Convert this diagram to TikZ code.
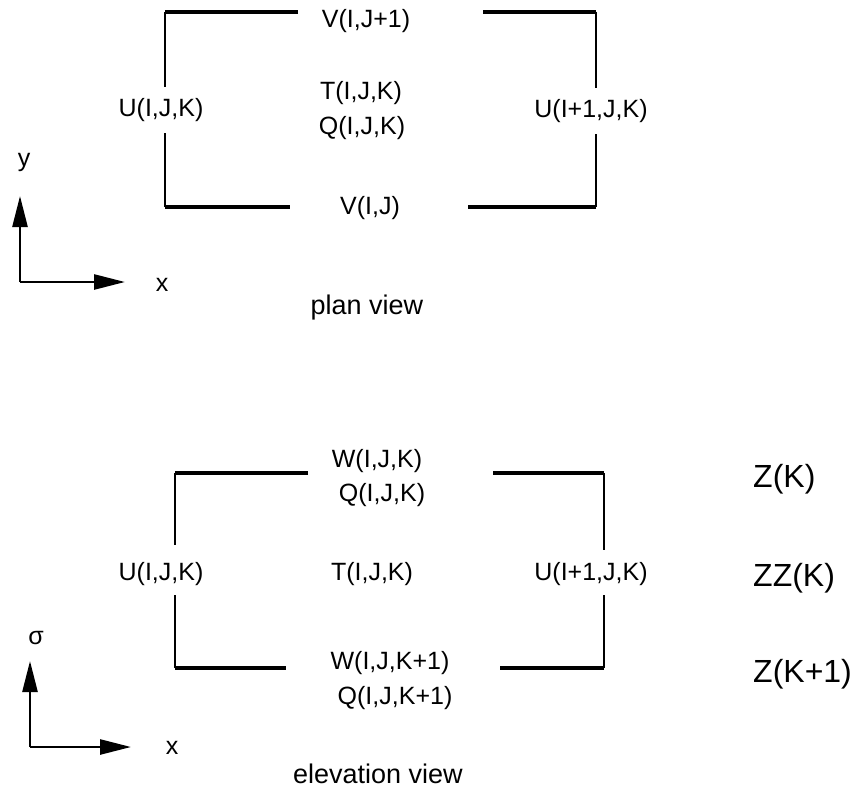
\documentclass[tikz,border=0pt]{standalone}
\usepackage{fontspec}
\setmainfont{Liberation Sans}
\usetikzlibrary{arrows.meta}
\tikzset{
  lab/.style={font=\fontsize{25}{28}\selectfont, inner sep=0pt},
  biglab/.style={font=\fontsize{32}{36}\selectfont, inner sep=0pt, anchor=west},
  viewcap/.style={font=\fontsize{27}{30}\selectfont, inner sep=0pt},
  face/.style={line width=3.4pt},
  side/.style={line width=2.4pt},
  axis/.style={line width=2.6pt, -{Triangle[length=31pt,width=15pt]}}
}
\begin{document}
\begin{tikzpicture}[x=1pt,y=-1pt]
\useasboundingbox (0,0) rectangle (861,789);
% plan view
\node[lab] (vtop) at (366,21) {V(I,J+1)};
\node[lab] (uwest) at (161,110) {U(I,J,K)};
\node[lab] (tplan) at (361,93) {T(I,J,K)};
\node[lab] (qplan) at (362,128) {Q(I,J,K)};
\node[lab] (ueast) at (591,111) {U(I+1,J,K)};
\node[lab] (vbot) at (370,208) {V(I,J)};
\draw[face] (298,12) -- (165,12);
\draw[side] (165,12) -- (165,87);
\draw[side] (165,133) -- (165,207);
\draw[face] (165,207) -- (290,207);
\draw[face] (483,12) -- (596,12);
\draw[side] (596,12) -- (596,88);
\draw[side] (596,134) -- (596,207);
\draw[face] (596,207) -- (468,207);
\coordinate (po) at (20,282);
\draw[axis] (po) -- (20,196);
\draw[axis] (po) -- (125,282);
\node[lab] (ylab) at (24,162) {y};
\node[lab] (xplan) at (162,285) {x};
\node[viewcap] (plan) at (367,308) {plan view};
% elevation view
\node[lab] (wtop) at (377,461) {W(I,J,K)};
\node[lab] (qtop) at (382,495) {Q(I,J,K)};
\node[lab] (uwest2) at (161,574) {U(I,J,K)};
\node[lab] (tel) at (372,574) {T(I,J,K)};
\node[lab] (ueast2) at (591,574) {U(I+1,J,K)};
\node[lab] (wbot) at (390,663) {W(I,J,K+1)};
\node[lab] (qbot) at (395,698) {Q(I,J,K+1)};
\node[biglab] (zk) at (753,479) {Z(K)};
\node[biglab] (zzk) at (753,578) {ZZ(K)};
\node[biglab] (zk1) at (753,674) {Z(K+1)};
\draw[face] (308,473) -- (175,473);
\draw[side] (175,473) -- (175,545);
\draw[side] (175,595) -- (175,668);
\draw[face] (175,668) -- (286,668);
\draw[face] (493,473) -- (604,473);
\draw[side] (604,473) -- (604,550);
\draw[side] (604,595) -- (604,668);
\draw[face] (604,668) -- (500,668);
\coordinate (eo) at (30,747);
\draw[axis] (eo) -- (30,661);
\draw[axis] (eo) -- (131,747);
\node[lab] (slab) at (36,638) {σ};
\node[lab] (xel) at (172,748) {x};
\node[viewcap] (elev) at (378,774) {elevation view};
\end{tikzpicture}
\end{document}
